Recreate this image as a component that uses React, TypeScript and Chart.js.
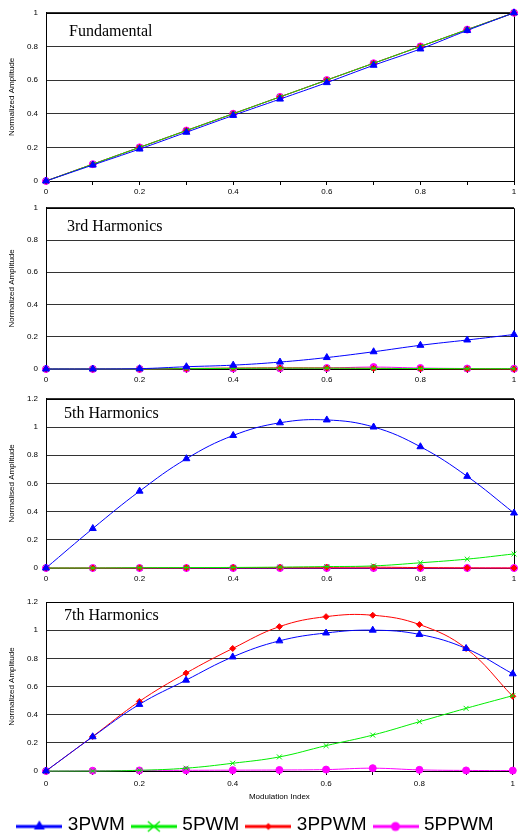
import React, { useEffect, useRef } from 'react';
import { Chart, registerables } from 'chart.js';

Chart.register(...registerables);
Chart.defaults.font.family = '"Liberation Sans", Arial, sans-serif';

// ---------- data ----------
const xValues = [0, 0.1, 0.2, 0.3, 0.4, 0.5, 0.6, 0.7, 0.8, 0.9, 1];
const seriesNames = ['3PWM', '5PWM', '3PPWM', '5PPWM'];
const xTickLabels = ['0', '0.2', '0.4', '0.6', '0.8', '1'];

const fund3PWM = [0, 0.095, 0.19, 0.29, 0.39, 0.487, 0.585, 0.688, 0.785, 0.895, 1];
const fund5PWM = [0, 0.1, 0.2, 0.3, 0.4, 0.5, 0.6, 0.7, 0.8, 0.9, 1];
const fund3PPWM = [0, 0.1, 0.2, 0.3, 0.4, 0.5, 0.6, 0.7, 0.8, 0.9, 1];
const fund5PPWM = [0, 0.1, 0.2, 0.3, 0.4, 0.5, 0.6, 0.7, 0.8, 0.9, 1];

const h3_3PWM = [0, 0, 0.002, 0.014, 0.024, 0.043, 0.071, 0.107, 0.147, 0.18, 0.214];
const h3_5PWM = [0, 0, 0, 0.002, 0.004, 0.005, 0.005, 0.004, 0.003, 0.002, 0.002];
const h3_3PPWM = [0, 0, 0, 0.003, 0.006, 0.007, 0.006, 0.004, 0.002, 0.001, 0];
const h3_5PPWM = [0, 0, 0, 0.002, 0.003, 0.004, 0.006, 0.012, 0.006, 0.003, 0.002];

const h5_3PWM = [0, 0.28, 0.545, 0.775, 0.94, 1.03, 1.05, 1.0, 0.86, 0.65, 0.39];
const h5_5PWM = [0, 0, 0.002, 0.003, 0.004, 0.006, 0.01, 0.015, 0.037, 0.063, 0.1];
const h5_3PPWM = [0, 0, 0.001, 0.002, 0.003, 0.004, 0.005, 0.006, 0.003, 0.001, 0];
const h5_5PPWM = [0, 0, 0, 0, 0, 0, 0, 0, 0, 0, 0];

const h7_3PWM = [0, 0.243, 0.473, 0.645, 0.81, 0.924, 0.98, 1.0, 0.97, 0.87, 0.69];
const h7_5PWM = [0, 0, 0.005, 0.02, 0.055, 0.1, 0.18, 0.255, 0.35, 0.445, 0.535];
const h7_3PPWM = [0, 0.245, 0.494, 0.695, 0.87, 1.025, 1.096, 1.106, 1.04, 0.87, 0.53];
const h7_5PPWM = [0, 0.002, 0.004, 0.005, 0.006, 0.007, 0.01, 0.02, 0.008, 0.004, 0.003];

const panelTitles = ['Fundamental', '3rd Harmonics', '5th Harmonics', '7th Harmonics'];
const yTitles = ['Normalized Amplitude', 'Normalized Amplitude', 'Normalised Amplitude', 'Normalized Amplitude'];
const yMaxes = [1, 1, 1.2, 1.2];
const panelSeries = [
  [fund3PWM, fund5PWM, fund3PPWM, fund5PPWM],
  [h3_3PWM, h3_5PWM, h3_3PPWM, h3_5PPWM],
  [h5_3PWM, h5_5PWM, h5_3PPWM, h5_5PPWM],
  [h7_3PWM, h7_5PWM, h7_3PPWM, h7_5PPWM],
];
const xAxisTitle = 'Modulation Index';

// ---------- styles ----------
const seriesStyles = [
  { color: '#0000ff', pointStyle: 'triangle', radius: 4 },
  { color: '#00ee00', pointStyle: 'crossRot', radius: 3.5 },
  { color: '#ff0000', pointStyle: 'rectRot', radius: 3 },
  { color: '#ff00ff', pointStyle: 'circle', radius: 3.5 },
];

const layouts = [
  { top: 0, height: 198, padTop: 10, xH: 17, tickPad: 2, titleDx: 23, titleDy: 23 },
  { top: 195, height: 191, padTop: 6, xH: 17, tickPad: 2, titleDx: 21, titleDy: 23 },
  { top: 386, height: 198, padTop: 12, xH: 16, tickPad: 2, titleDx: 18, titleDy: 19 },
  { top: 584, height: 260, padTop: 18, xH: 34, tickPad: 4, titleDx: 18, titleDy: 18 },
];

function fmt(v: number) {
  return String(Math.round(v * 10) / 10);
}

function makeLegendIcon(color: string, style: string) {
  const c = document.createElement('canvas');
  c.width = 46;
  c.height = 22;
  const g = c.getContext('2d')!;
  g.strokeStyle = color;
  g.fillStyle = color;
  g.lineWidth = 3;
  const cx = 23, cy = 13;
  g.beginPath();
  g.moveTo(0, cy);
  g.lineTo(46, cy);
  g.stroke();
  g.beginPath();
  if (style === 'triangle') {
    g.moveTo(cx, cy - 6);
    g.lineTo(cx + 5.5, cy + 3);
    g.lineTo(cx - 5.5, cy + 3);
    g.closePath();
    g.fill();
  } else if (style === 'crossRot') {
    g.lineWidth = 1.5;
    g.moveTo(cx - 6, cy - 5);
    g.lineTo(cx + 6, cy + 5);
    g.moveTo(cx + 6, cy - 5);
    g.lineTo(cx - 6, cy + 5);
    g.stroke();
  } else if (style === 'rectRot') {
    g.moveTo(cx, cy - 3.5);
    g.lineTo(cx + 3.5, cy);
    g.lineTo(cx, cy + 3.5);
    g.lineTo(cx - 3.5, cy);
    g.closePath();
    g.fill();
  } else {
    g.arc(cx, cy, 4.5, 0, Math.PI * 2);
    g.fill();
  }
  return c;
}

const panelTitlePlugin = {
  id: 'panelTitle',
  beforeDatasetsDraw(chart: any, _args: any, opts: any) {
    const { ctx, chartArea } = chart;
    ctx.save();
    // frame around plot area
    ctx.strokeStyle = '#000';
    ctx.lineWidth = 1;
    ctx.beginPath();
    const r = Math.round(chartArea.right) + 0.5;
    const t = Math.round(chartArea.top) + 0.5;
    ctx.moveTo(Math.round(chartArea.left) + 0.5, t);
    ctx.lineTo(r, t);
    ctx.lineTo(r, Math.round(chartArea.bottom) + 0.5);
    ctx.stroke();
    ctx.font = '16px "Liberation Serif", "Times New Roman", serif';
    ctx.fillStyle = '#000';
    ctx.textBaseline = 'alphabetic';
    ctx.textAlign = 'left';
    ctx.fillText(opts.text, chartArea.left + opts.dx, chartArea.top + opts.dy);
    ctx.restore();
  },
};

function Panel({ index }: { index: number }) {
  const ref = useRef<HTMLCanvasElement | null>(null);
  const lay = layouts[index];
  const last = index === 3;

  useEffect(() => {
    if (!ref.current) return;
    const icons = seriesStyles.map((s) => makeLegendIcon(s.color, s.pointStyle));
    const datasets = panelSeries[index].map((vals, i) => ({
      label: seriesNames[i],
      data: vals.map((v, j) => ({ x: xValues[j], y: v })),
      borderColor: seriesStyles[i].color,
      backgroundColor: seriesStyles[i].color,
      pointBackgroundColor: seriesStyles[i].color,
      pointBorderColor: seriesStyles[i].color,
      pointStyle: seriesStyles[i].pointStyle,
      pointRadius: seriesStyles[i].radius,
      pointBorderWidth: 1,
      borderWidth: 1,
      tension: 0.4,
      clip: false,
      fill: false,
    }));

    const chart = new Chart(ref.current, {
      type: 'line',
      data: { datasets },
      plugins: [panelTitlePlugin],
      options: {
        animation: false,
        responsive: false,
        events: [],
        layout: { padding: { top: lay.padTop, left: 0, right: 5, bottom: 0 } },
        plugins: {
          tooltip: { enabled: false },
          panelTitle: { text: panelTitles[index], dx: lay.titleDx, dy: lay.titleDy },
          legend: last
            ? {
                display: true,
                position: 'bottom',
                labels: {
                  usePointStyle: true,
                  pointStyleWidth: 38,
                  boxHeight: 16,
                  padding: 10,
                  color: '#000',
                  font: { size: 19 },
                  generateLabels: (ch: any) =>
                    ch.data.datasets.map((ds: any, i: number) => ({
                      text: ds.label,
                      pointStyle: icons[i],
                      fillStyle: 'transparent',
                      strokeStyle: 'transparent',
                      lineWidth: 0,
                      hidden: false,
                      datasetIndex: i,
                      fontColor: '#000',
                    })),
                },
              }
            : { display: false },
        } as any,
        scales: {
          x: {
            type: 'linear',
            min: 0,
            max: 1,
            ticks: {
              stepSize: 0.1,
              autoSkip: false,
              maxRotation: 0,
              padding: lay.tickPad,
              color: '#000',
              font: { size: 8 },
              callback: (v: any) => {
                const s = fmt(Number(v));
                return xTickLabels.includes(s) ? s : '';
              },
            },
            grid: { drawOnChartArea: false, drawTicks: true, tickLength: 4, color: '#000' },
            border: { color: '#000' },
            title: last
              ? {
                  display: true,
                  text: xAxisTitle,
                  color: '#000',
                  font: { size: 8 },
                  padding: { top: 0, bottom: 3 },
                }
              : { display: false },
            afterFit: (s: any) => {
              s.height = lay.xH;
            },
          },
          y: {
            min: 0,
            max: yMaxes[index],
            ticks: {
              stepSize: 0.2,
              padding: 8,
              color: '#000',
              font: { size: 8 },
              callback: (v: any) => fmt(Number(v)),
            },
            grid: { drawTicks: false, color: '#333', lineWidth: 1 },
            border: { color: '#000' },
            title: {
              display: true,
              text: yTitles[index],
              color: '#000',
              font: { size: 8 },
              padding: { top: 7, bottom: 0 },
            },
            afterFit: (s: any) => {
              s.width = 46;
            },
          },
        } as any,
      },
    } as any);
    return () => chart.destroy();
  }, [index]);

  return (
    <div style={{ position: 'absolute', left: 0, top: lay.top, width: 519, height: lay.height }}>
      <canvas ref={ref} width={519} height={lay.height} style={{ display: 'block' }} />
    </div>
  );
}

export default function App() {
  return (
    <div
      style={{
        position: 'absolute',
        left: 0,
        top: 0,
        width: 519,
        height: 836,
        overflow: 'hidden',
        background: '#fff',
      }}
    >
      {[0, 1, 2, 3].map((i) => (
        <Panel key={i} index={i} />
      ))}
    </div>
  );
}
